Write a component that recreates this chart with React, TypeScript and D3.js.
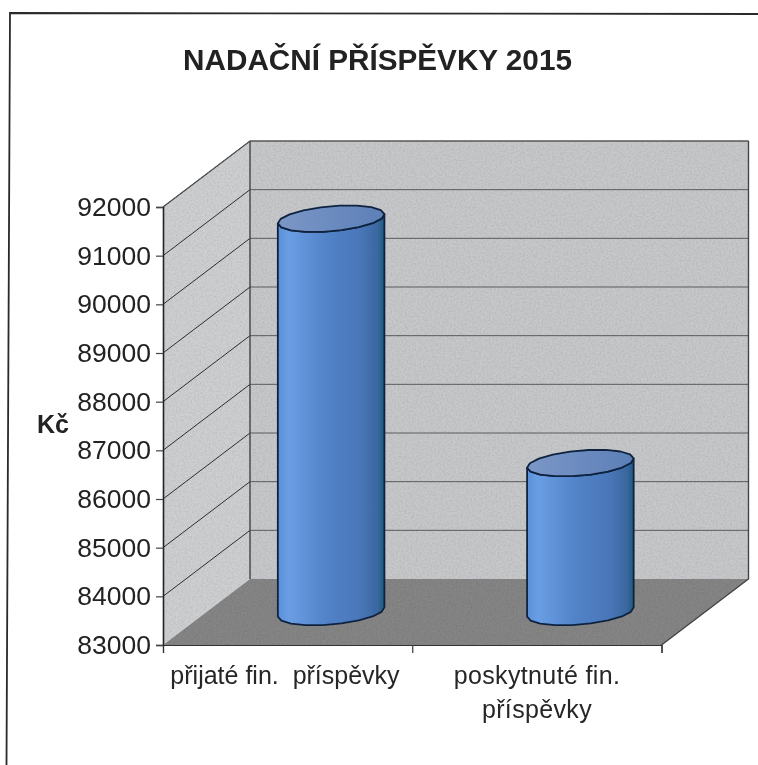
import React, { useEffect, useRef } from "react";
import * as d3 from "d3";

const categories = ["přijaté fin. příspěvky", "poskytnuté fin. příspěvky"];
const categoryLines = [["přijaté fin.  příspěvky"], ["poskytnuté fin.", "příspěvky"]];
const values = [91080, 86060];
const yTicks = [83000, 84000, 85000, 86000, 87000, 88000, 89000, 90000, 91000, 92000];

const font = "'Liberation Sans', Arial, sans-serif";
const depthX = 87;
const depthY = -66;

const App = () => {
  const ref = useRef<SVGSVGElement>(null);

  useEffect(() => {
    const svg = d3.select(ref.current);
    svg.selectAll("*").remove();

    const defs = svg.append("defs");

    const blur = defs.append("filter").attr("id", "scan").attr("x", "-5%").attr("y", "-5%").attr("width", "110%").attr("height", "110%");
    blur.append("feGaussianBlur").attr("stdDeviation", 0.45);

    // paper grain on the walls
    const grain = defs.append("filter").attr("id", "grain").attr("x", 0).attr("y", 0).attr("width", "100%").attr("height", "100%");
    grain.append("feTurbulence").attr("type", "fractalNoise").attr("baseFrequency", 0.55).attr("numOctaves", 2).attr("seed", 4).attr("result", "n");
    grain.append("feColorMatrix").attr("in", "n").attr("type", "matrix")
      .attr("values", "0 0 0 0 0  0 0 0 0 0  0 0 0 0 0  0.35 0 0 0 -0.13").attr("result", "a");
    grain.append("feComposite").attr("in", "a").attr("in2", "SourceGraphic").attr("operator", "in").attr("result", "c");
    const merge = grain.append("feMerge");
    merge.append("feMergeNode").attr("in", "SourceGraphic");
    merge.append("feMergeNode").attr("in", "c");

    const side = defs.append("linearGradient").attr("id", "cyl");
    [[0, "#5a8fd6"], [0.1, "#6a9ee4"], [0.45, "#5283c8"], [0.78, "#4a76b8"], [0.94, "#3a679e"], [1, "#1c5a7e"]]
      .forEach(([o, c]) => side.append("stop").attr("offset", o as number).attr("stop-color", c as string));

    const cap = defs.append("linearGradient").attr("id", "cap");
    cap.append("stop").attr("offset", 0).attr("stop-color", "#7b97c6");
    cap.append("stop").attr("offset", 1).attr("stop-color", "#5c7fb8");

    const x = d3.scaleBand().domain(categories).range([163, 661.5]);
    const y = d3.scaleLinear().domain([83000, 92000]).range([645, 207]);

    const x0 = x.range()[0];
    const x1 = x.range()[1];
    const y0 = y.range()[0];
    const y1 = y.range()[1];

    const g = svg.append("g").attr("filter", "url(#scan)");

    const poly = d3.line();

    // outer frame, the scan is a little skewed and the right edge is cut off
    g.append("path").attr("d", poly([[6.5, 765], [10, 13], [758, 14]]))
      .attr("fill", "none").attr("stroke", "#2a2a2a").attr("stroke-width", 1.8);

    const walls = g.append("g").attr("filter", "url(#grain)");
    walls.append("path")
      .attr("d", poly([[x0 + depthX, y1 + depthY], [x1 + depthX, y1 + depthY], [x1 + depthX, y0 + depthY], [x0 + depthX, y0 + depthY]]) + "Z")
      .attr("fill", "#c6c8ca");
    walls.append("path")
      .attr("d", poly([[x0, y1], [x0 + depthX, y1 + depthY], [x0 + depthX, y0 + depthY], [x0, y0]]) + "Z")
      .attr("fill", "#cdcfd1");
    walls.append("path")
      .attr("d", poly([[x0, y0], [x0 + depthX, y0 + depthY], [x1 + depthX, y0 + depthY], [x1, y0]]) + "Z")
      .attr("fill", "#858585");

    // gridlines on both walls
    yTicks.forEach(t => {
      if (t === 83000) return;
      g.append("path")
        .attr("d", poly([[x0, y(t)], [x0 + depthX, y(t) + depthY]]))
        .attr("fill", "none").attr("stroke", "#2e2e2e").attr("stroke-width", 1);
      g.append("path")
        .attr("d", poly([[x0 + depthX, y(t) + depthY], [x1 + depthX, y(t) + depthY]]))
        .attr("fill", "none").attr("stroke", "#5c5c5c").attr("stroke-width", 1);
    });

    // wall edges
    g.append("path")
      .attr("d", poly([[x0, y1], [x0 + depthX, y1 + depthY], [x1 + depthX, y1 + depthY]]))
      .attr("stroke", "#555").attr("stroke-width", 1.2).attr("fill", "none");
    g.append("path")
      .attr("d", poly([[x0 + depthX, y1 + depthY], [x0 + depthX, y0 + depthY]]))
      .attr("stroke", "#444").attr("stroke-width", 1.4).attr("fill", "none");
    g.append("path")
      .attr("d", poly([[x1 + depthX, y1 + depthY], [x1 + depthX, y0 + depthY], [x1, y0]]))
      .attr("stroke", "#444").attr("stroke-width", 1.4).attr("fill", "none");

    // axes
    const axisY = g.append("g").attr("transform", `translate(${x0},0)`)
      .call(d3.axisLeft(y).tickValues(yTicks).tickFormat(d3.format("d")).tickSize(7).tickPadding(5));
    axisY.selectAll("text").attr("font-family", font).attr("font-size", 26.5).attr("fill", "#222");
    axisY.selectAll("line").attr("stroke", "#444").attr("stroke-width", 1.2);
    axisY.select("path").attr("stroke", "#222").attr("stroke-width", 1.6);

    const tickX = d3.scalePoint().domain(["a", "b", "c"]).range([x0, x1]);
    const axisX = g.append("g").attr("transform", `translate(0,${y0})`)
      .call(d3.axisBottom(tickX).tickSize(8).tickFormat(() => ""));
    axisX.selectAll("line,path").attr("stroke", "#333").attr("stroke-width", 1.2);

    // cylinders
    const rx = 53.5;
    const ry = 12.5;
    const tilt = (-5 * Math.PI) / 180;
    const bw = x.bandwidth();
    const ellipsePoint = (cx: number, cy: number, a: number): [number, number] => {
      const ex = rx * Math.cos(a);
      const ey = ry * Math.sin(a);
      return [cx + ex * Math.cos(tilt) - ey * Math.sin(tilt), cy + ex * Math.sin(tilt) + ey * Math.cos(tilt)];
    };
    const steps = d3.range(0, 18).map(i => (i / 18) * 2 * Math.PI);
    const frontArc = d3.range(0, 10).map(i => (i / 9) * Math.PI);

    categories.forEach((c, i) => {
      const cx = (x(c) as number) + bw / 2 + depthX / 2;
      const topY = y(values[i]) + depthY / 2;
      const botY = y0 + depthY / 2;

      // body: bottom front arc right to left, then top front arc left to right
      const body = [
        ...frontArc.map(a => ellipsePoint(cx, botY, a)),
        ...frontArc.slice().reverse().map(a => ellipsePoint(cx, topY, a)),
      ];
      g.append("path").attr("d", poly(body) + "Z")
        .attr("fill", "url(#cyl)").attr("stroke", "#10243f").attr("stroke-width", 1.8).attr("stroke-linejoin", "round");

      g.append("path").attr("d", poly(steps.map(a => ellipsePoint(cx, topY, a))) + "Z")
        .attr("fill", "url(#cap)").attr("stroke", "#10243f").attr("stroke-width", 1.8).attr("stroke-linejoin", "round");
    });

    // labels
    g.append("text").attr("x", 377.5).attr("y", 70).attr("text-anchor", "middle")
      .attr("font-family", font).attr("font-weight", "bold").attr("font-size", 29.7).attr("fill", "#222")
      .text("NADAČNÍ PŘÍSPĚVKY 2015");

    g.append("text").attr("x", 53).attr("y", 433).attr("text-anchor", "middle")
      .attr("font-family", font).attr("font-weight", "bold").attr("font-size", 25).attr("fill", "#222")
      .text("Kč");

    const labelCentres = [285, 537];
    categories.forEach((c, i) => {
      categoryLines[i].forEach((line, j) => {
        g.append("text").attr("x", labelCentres[i]).attr("y", 684 + j * 34).attr("text-anchor", "middle")
          .attr("font-family", font).attr("font-size", 25).attr("fill", "#262626")
          .attr("letter-spacing", i === 1 ? 0.35 : 0)
          .style("white-space", "pre")
          .text(line);
      });
    });
  }, []);

  return (
    <svg ref={ref} width={758} height={765} style={{ position: "absolute", left: 0, top: 0, background: "#fff" }} />
  );
};

export default App;
